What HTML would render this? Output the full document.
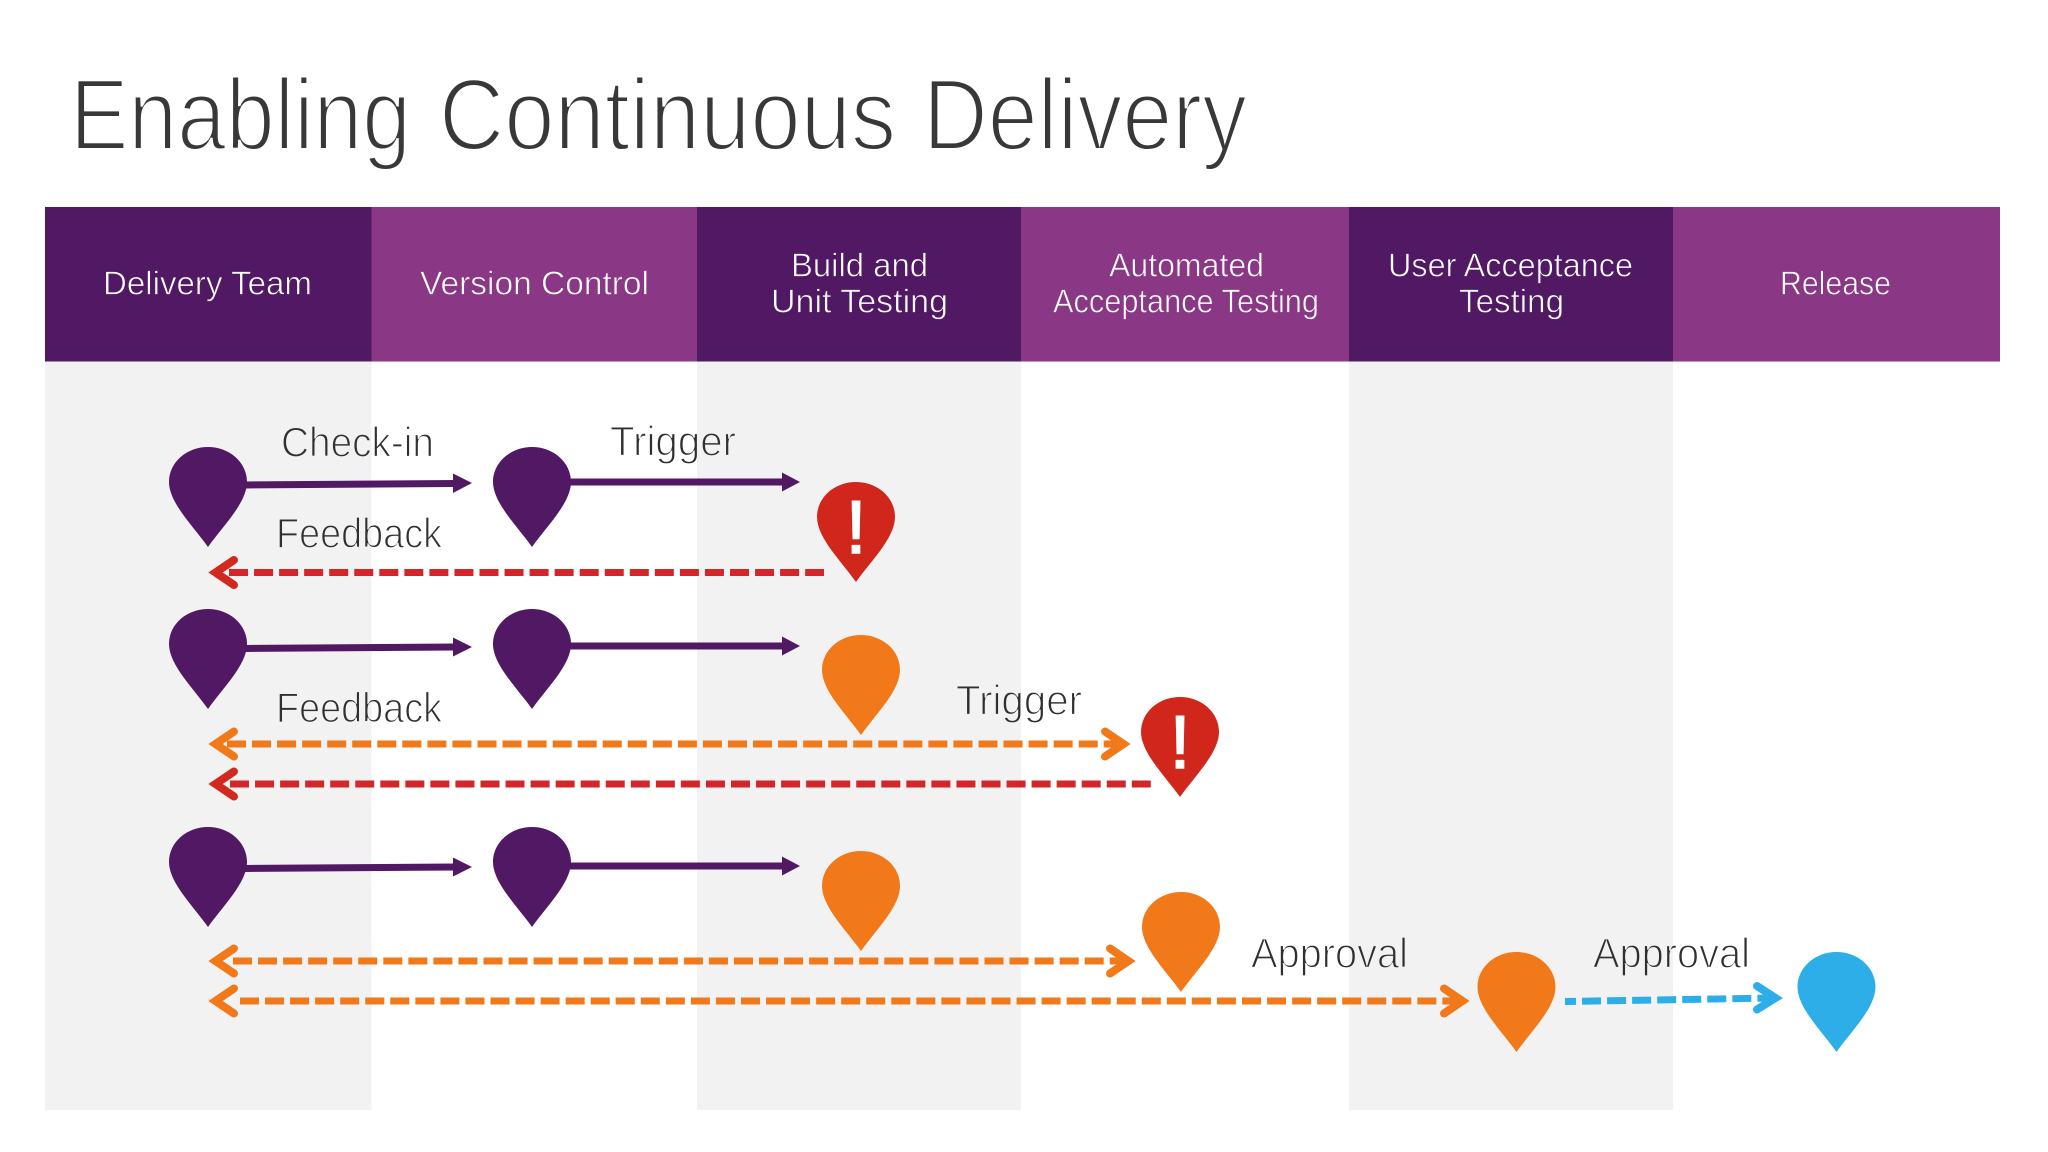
<!DOCTYPE html>
<html lang="en">
<head>
<meta charset="utf-8">
<title>Enabling Continuous Delivery</title>
<style>
html,body{margin:0;padding:0;background:#fff;width:2048px;height:1152px;overflow:hidden}
svg{display:block}
text{font-family:"Liberation Sans",sans-serif}
.h{font-size:33px;fill:#fff;stroke:url(#hs);stroke-width:.7px}
.l{font-size:42px;fill:#303030;stroke:url(#bs);stroke-width:1.3px}
.t{font-size:101px;fill:#383838;stroke:#fff;stroke-width:3px}
.x{font-size:75px;fill:#fff;stroke:#fff;stroke-width:1.6px;text-anchor:middle}
.s{stroke:#511864;stroke-width:7;fill:none}
.d{stroke-width:7;fill:none;stroke-dasharray:19 6.05}
.c{stroke-width:8;fill:none;stroke-linecap:round;stroke-linejoin:miter}
</style>
</head>
<body>
<svg width="2048" height="1152" viewBox="0 0 2048 1152" xmlns="http://www.w3.org/2000/svg">
<defs>
<linearGradient id="hs" gradientUnits="userSpaceOnUse" x1="0" y1="0" x2="2048" y2="0">
<stop offset="0" stop-color="#511864"/><stop offset=".18115" stop-color="#511864"/>
<stop offset=".18115" stop-color="#8a3886"/><stop offset=".34033" stop-color="#8a3886"/>
<stop offset=".34033" stop-color="#511864"/><stop offset=".49854" stop-color="#511864"/>
<stop offset=".49854" stop-color="#8a3886"/><stop offset=".65869" stop-color="#8a3886"/>
<stop offset=".65869" stop-color="#511864"/><stop offset=".81689" stop-color="#511864"/>
<stop offset=".81689" stop-color="#8a3886"/><stop offset="1" stop-color="#8a3886"/>
</linearGradient>
<linearGradient id="bs" gradientUnits="userSpaceOnUse" x1="0" y1="0" x2="2048" y2="0">
<stop offset="0" stop-color="#f2f2f3"/><stop offset=".18115" stop-color="#f2f2f3"/>
<stop offset=".18115" stop-color="#fff"/><stop offset=".34033" stop-color="#fff"/>
<stop offset=".34033" stop-color="#f2f2f3"/><stop offset=".49854" stop-color="#f2f2f3"/>
<stop offset=".49854" stop-color="#fff"/><stop offset=".65869" stop-color="#fff"/>
<stop offset=".65869" stop-color="#f2f2f3"/><stop offset=".81689" stop-color="#f2f2f3"/>
<stop offset=".81689" stop-color="#fff"/><stop offset="1" stop-color="#fff"/>
</linearGradient>
<path id="pin" d="M0,100 C-14,80 -39,56 -39,35 C-39,15 -21,0 0,0 C21,0 39,15 39,35 C39,56 14,80 0,100Z"/>
</defs>

<rect width="2048" height="1152" fill="#fff"/>

<!-- columns -->
<rect x="45" y="361" width="326.5" height="749" fill="#f2f2f3"/>
<rect x="697" y="361" width="324" height="749" fill="#f2f2f3"/>
<rect x="1349" y="361" width="324" height="749" fill="#f2f2f3"/>

<!-- header -->
<rect x="45" y="207" width="326.5" height="154.5" fill="#511864"/>
<rect x="371.5" y="207" width="325.5" height="154.5" fill="#8a3886"/>
<rect x="697" y="207" width="324" height="154.5" fill="#511864"/>
<rect x="1021" y="207" width="328" height="154.5" fill="#8a3886"/>
<rect x="1349" y="207" width="324" height="154.5" fill="#511864"/>
<rect x="1673" y="207" width="327" height="154.5" fill="#8a3886"/>

<text class="t" x="70" y="149.5" textLength="341" lengthAdjust="spacingAndGlyphs">Enabling</text>
<text class="t" x="439" y="149.5" textLength="457" lengthAdjust="spacingAndGlyphs">Continuous</text>
<text class="t" x="923" y="149.5" textLength="324" lengthAdjust="spacingAndGlyphs">Delivery</text>

<text class="h" x="103" y="294.5" textLength="209" lengthAdjust="spacingAndGlyphs">Delivery Team</text>
<text class="h" x="420" y="294.5" textLength="229" lengthAdjust="spacingAndGlyphs">Version Control</text>
<text class="h" x="791" y="276.5" textLength="137" lengthAdjust="spacingAndGlyphs">Build and</text>
<text class="h" x="771" y="312.5" textLength="177" lengthAdjust="spacingAndGlyphs">Unit Testing</text>
<text class="h" x="1109" y="276.5" textLength="155" lengthAdjust="spacingAndGlyphs">Automated</text>
<text class="h" x="1053" y="312.5" textLength="266" lengthAdjust="spacingAndGlyphs">Acceptance Testing</text>
<text class="h" x="1388" y="276.5" textLength="245" lengthAdjust="spacingAndGlyphs">User Acceptance</text>
<text class="h" x="1459" y="312.5" textLength="105" lengthAdjust="spacingAndGlyphs">Testing</text>
<text class="h" x="1780" y="294.5" textLength="111" lengthAdjust="spacingAndGlyphs">Release</text>

<!-- labels -->
<text class="l" x="281" y="456.5" textLength="153" lengthAdjust="spacingAndGlyphs">Check-in</text>
<text class="l" x="610" y="455.5" textLength="126" lengthAdjust="spacingAndGlyphs">Trigger</text>
<text class="l" x="276" y="547.5" textLength="166" lengthAdjust="spacingAndGlyphs">Feedback</text>
<text class="l" x="276" y="722" textLength="166" lengthAdjust="spacingAndGlyphs">Feedback</text>
<text class="l" x="956" y="714.5" textLength="126" lengthAdjust="spacingAndGlyphs">Trigger</text>
<text class="l" x="1251" y="967.5" textLength="157" lengthAdjust="spacingAndGlyphs">Approval</text>
<text class="l" x="1593" y="967.5" textLength="157" lengthAdjust="spacingAndGlyphs">Approval</text>

<!-- row 1 solid -->
<path class="s" d="M245,485 L456,483.5"/><polygon fill="#511864" points="453,473.5 472,483 453,493"/>
<path class="s" d="M568,482 L785,482"/><polygon fill="#511864" points="782,472.5 800,482 782,491.5"/>
<!-- row 2 solid -->
<path class="s" d="M245,648.5 L456,647"/><polygon fill="#511864" points="453,637.5 472,647 453,656.5"/>
<path class="s" d="M568,646 L785,646"/><polygon fill="#511864" points="782,636.5 800,646 782,655.5"/>
<!-- row 3 solid -->
<path class="s" d="M245,868.5 L456,867"/><polygon fill="#511864" points="453,857.5 472,867 453,876.5"/>
<path class="s" d="M568,866 L785,866"/><polygon fill="#511864" points="782,856.5 800,866 782,875.5"/>

<!-- dashed: row 1 feedback -->
<path class="d" stroke="#d2262a" d="M229,572.5 H824"/>
<path class="c" stroke="#d2281e" d="M234,560 L215.5,572.5 L234,585"/>

<!-- dashed: row 2 -->
<path class="d" stroke="#f2791a" d="M227,744 H1124"/>
<path class="c" stroke="#f2791a" d="M234,731.5 L215.5,744 L234,756.5"/>
<path class="c" stroke="#f2791a" d="M1105,731.5 L1123.5,744 L1105,756.5"/>
<path class="d" stroke="#d2262a" d="M230,784 H1152"/>
<path class="c" stroke="#d2281e" d="M234,771.5 L215.5,784 L234,796.5"/>

<!-- dashed: row 3 -->
<path class="d" stroke="#f2791a" d="M233,961 H1129"/>
<path class="c" stroke="#f2791a" d="M234,948.5 L215.5,961 L234,973.5"/>
<path class="c" stroke="#f2791a" d="M1110,948.5 L1128.5,961 L1110,973.5"/>
<path class="d" stroke="#f2791a" d="M240,1001 H1463"/>
<path class="c" stroke="#f2791a" d="M234,988.5 L215.5,1001 L234,1013.5"/>
<path class="c" stroke="#f2791a" d="M1444,988.5 L1462.5,1001 L1444,1013.5"/>

<!-- blue -->
<path class="d" stroke="#2eaee8" stroke-dashoffset="8" d="M1565,1001.5 L1775,998"/>
<path class="c" stroke="#2eaee8" d="M1757,986 L1775.5,998 L1757,1009.5"/>

<!-- pins -->
<g fill="#511864">
<use href="#pin" x="208" y="447"/>
<use href="#pin" x="532" y="447"/>
<use href="#pin" x="208" y="609"/>
<use href="#pin" x="532" y="609"/>
<use href="#pin" x="208" y="827"/>
<use href="#pin" x="532" y="827"/>
</g>
<g fill="#f2791a">
<use href="#pin" x="861" y="635"/>
<use href="#pin" x="861" y="851"/>
<use href="#pin" x="1181" y="892"/>
<use href="#pin" x="1516.5" y="952"/>
</g>
<use href="#pin" x="1836.5" y="952" fill="#2eaee8"/>
<g fill="#d1261c">
<use href="#pin" x="856" y="482"/>
<use href="#pin" x="1180" y="697"/>
</g>
<text class="x" x="856" y="553">!</text>
<text class="x" x="1180" y="768">!</text>
</svg>
</body>
</html>
